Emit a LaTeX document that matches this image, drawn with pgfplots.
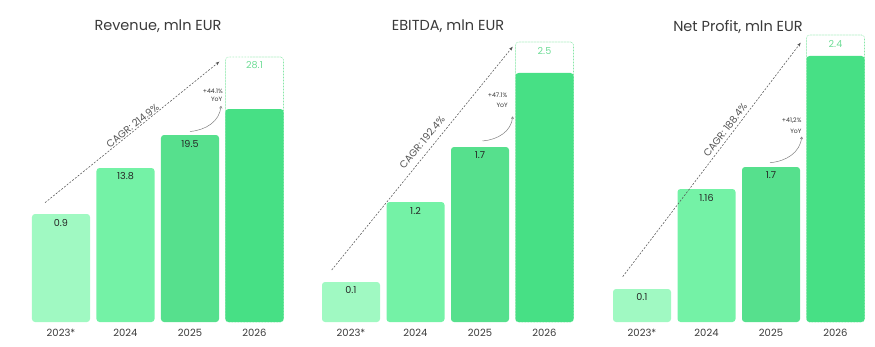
\documentclass[border=0pt]{standalone}
\usepackage{fontspec}
\setmainfont{Poppins}
\usepackage{pgfplots}
\pgfplotsset{compat=1.18}
\usetikzlibrary{arrows.meta}
\definecolor{cA}{HTML}{A0F9C2}
\definecolor{cB}{HTML}{74F2A6}
\definecolor{cC}{HTML}{56E08D}
\definecolor{cD}{HTML}{47E085}
\definecolor{dotc}{HTML}{86E6A6}
\definecolor{lbl}{HTML}{6EDC96}
\definecolor{txt}{HTML}{3A3A3A}
\definecolor{ann}{HTML}{555555}
\pgfplotsset{
  panel/.style={
    scale only axis, width=258pt, height=300pt,
    xmin=-0.5, xmax=3.5, ymin=0, ymax=300,
    anchor=south west,
    axis line style={draw=none}, ytick=\empty,
    xtick={0,1,2,3}, xticklabels={2023*,2024,2025,2026},
    xtick style={draw=none}, major tick length=0pt,
    xticklabel style={font=\fontsize{10}{12}\selectfont, text=txt, anchor=center, yshift=-11pt},
    every axis plot/.append style={ybar, bar width=58pt, bar shift=0pt, draw=none, rounded corners=3pt,
      nodes near coords, point meta=explicit symbolic,
      every node near coord/.append style={anchor=center, yshift=-8.5pt, font=\fontsize{9.6}{11}\selectfont, text=black!85}},
  },
  dotbar/.style={draw=dotc, line width=0.6pt, dash pattern=on 0.6pt off 0.9pt, fill=none,
      every node near coord/.append style={text=lbl}},
}
\tikzset{
  cagr/.style={draw=ann, line width=0.55pt, dash pattern=on 2pt off 1.5pt, -{Stealth[length=4pt,width=3pt]}},
  cagrtext/.style={font=\fontsize{10}{12}\selectfont, text=ann, inner sep=0pt},
  yoy/.style={font=\fontsize{6.2}{7}\selectfont, text=black!80, inner sep=0pt, anchor=east},
  yoyarrow/.style={draw=black!50, line width=0.5pt, -{To[length=2.5pt,width=3pt]}},
  ttl/.style={font=\fontsize{14.5}{17}\selectfont, text=txt, inner sep=0pt},
}
\begin{document}
\begin{tikzpicture}[x=1pt,y=1pt]
\useasboundingbox (0,0) rectangle (875,346);
% ---------------- Revenue ----------------
\begin{axis}[panel, at={(28.75pt,24pt)}]
\addplot[dotbar] coordinates {(3,265) [28.1]};
\addplot[fill=cA] coordinates {(0,108) [0.9]};
\addplot[fill=cB] coordinates {(1,154) [13.8]};
\addplot[fill=cC] coordinates {(2,187) [19.5]};
\addplot[fill=cD, nodes near coords=] coordinates {(3,213) []};
\end{axis}
% ---------------- EBITDA ----------------
\begin{axis}[panel, at={(318.75pt,24pt)}]
\addplot[dotbar] coordinates {(3,280) [2.5]};
\addplot[fill=cA] coordinates {(0,40) [0.1]};
\addplot[fill=cB] coordinates {(1,120) [1.2]};
\addplot[fill=cC] coordinates {(2,175) [1.7]};
\addplot[fill=cD, nodes near coords=] coordinates {(3,249) []};
\end{axis}
% ---------------- Net Profit ----------------
\begin{axis}[panel, at={(609.75pt,24pt)}]
\addplot[dotbar] coordinates {(3,287) [2.4]};
\addplot[fill=cA] coordinates {(0,33) [0.1]};
\addplot[fill=cB] coordinates {(1,133) [1.16]};
\addplot[fill=cC] coordinates {(2,155) [1.7]};
\addplot[fill=cD, nodes near coords=] coordinates {(3,266) []};
\end{axis}
% titles
\node[ttl] at (158,320) {Revenue, mln EUR};
\node[ttl] at (448,320) {EBITDA, mln EUR};
\node[ttl] at (738,319) {Net Profit, mln EUR};
% CAGR arrows
\draw[cagr] (45,143.3) -- (219.3,284.3);
\node[cagrtext, rotate=39] at (132.5,220.3) {CAGR: 214.9\%};
\draw[cagr] (331.7,76) -- (512.7,299.3);
\node[cagrtext, rotate=50] at (422,203.5) {CAGR: 192.4\%};
\draw[cagr] (622.7,69.3) -- (800.7,303.3);
\node[cagrtext, rotate=52.7] at (725.3,216) {CAGR: 188.4\%};
% YoY
\node[yoy] at (223,254.3) {+44.1\%};
\node[yoy] at (222.5,246.7) {YoY};
\draw[yoyarrow] (190,214.5) to[out=5,in=-95] (221,240);
\node[yoy] at (507.5,251) {+47.1\%};
\node[yoy] at (508,241) {YoY};
\draw[yoyarrow] (482.5,205) to[out=5,in=-95] (512.7,229.5);
\node[yoy] at (801.7,225) {+41,2\%};
\node[yoy] at (801.7,215) {YoY};
\draw[yoyarrow] (770,183.3) to[out=5,in=-95] (801.7,209.3);
\end{tikzpicture}
\end{document}
